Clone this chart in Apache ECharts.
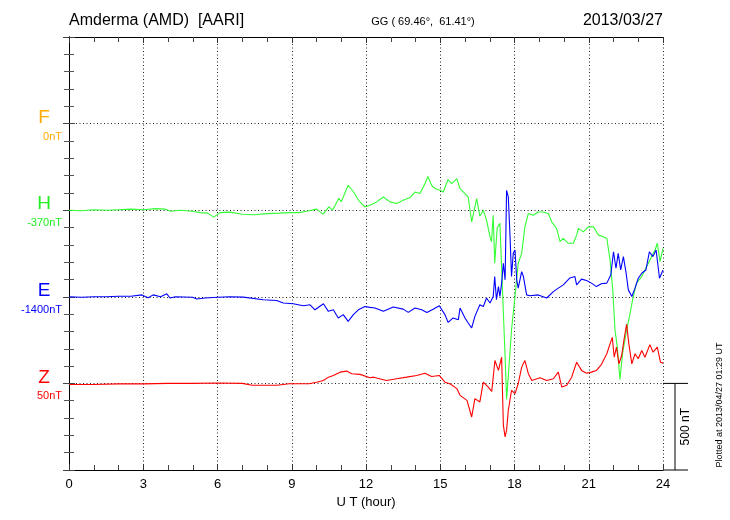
<!DOCTYPE html>
<html><head><meta charset="utf-8">
<script src="https://cdn.jsdelivr.net/npm/echarts@6/dist/echarts.min.js"></script>
<style>html,body{margin:0;padding:0;background:#fff}#c{width:730px;height:520px}</style>
</head><body><div id="c"></div>
<script>
// Data: UT hours and deviation (nT) from each component's baseline
const hT=[0,0.5,1,1.5,2,2.5,3,3.5,3.9,4.1,4.5,5,5.3,5.6,5.85,6.1,6.5,7,7.5,8,8.5,8.9,9.3,9.6,10,10.27,10.5,10.65,10.9,11,11.28,11.5,11.7,11.95,12.16,12.43,12.7,12.97,13.24,13.5,13.78,13.98,14.18,14.38,14.5,14.65,14.79,14.99,15.12,15.31,15.46,15.67,15.8,16,16.13,16.27,16.47,16.6,16.74,16.87,17.01,17.07,17.14,17.2,17.3,17.41,17.48,17.55,17.62,17.68,17.75,17.88,18.02,18.15,18.29,18.42,18.56,18.76,18.96,19.16,19.37,19.5,19.7,19.84,19.97,20.17,20.38,20.51,20.58,20.78,20.98,21.19,21.39,21.59,21.73,21.86,21.97,22.06,22.15,22.26,22.37,22.51,22.67,22.8,22.93,23.14,23.34,23.54,23.68,23.77,23.88,24];
const hV=[0,-3,3,0,3,6,3,9,6,-6,0,-6,-14,-17,-40,-14,-11,-23,-26,-20,-17,-14,-14,-6,6,-23,19,0,69,48,144,105,57,19,29,48,76,48,39,57,73,105,96,153,195,144,125,115,105,176,153,182,125,96,76,-67,67,-34,0,-57,-153,-182,-29,-306,-103,-76,-76,-592,-843,-1092,-958,-690,-498,-306,-249,-96,-19,-29,-10,-10,-19,-67,-105,-182,-163,-191,-191,-144,-105,-125,-96,-96,-144,-153,-163,-287,-460,-690,-786,-977,-824,-709,-594,-498,-421,-383,-326,-268,-230,-191,-297,-220];
const eT=[0,0.5,1,1.5,2,2.5,2.94,3.2,3.4,3.7,3.95,4.08,4.3,5,5.16,5.5,6,6.5,7.04,7.85,8.39,8.66,9.06,9.47,9.74,9.94,10.28,10.48,10.68,10.88,11.08,11.28,11.49,11.69,11.96,12.16,12.36,12.7,13.1,13.5,13.71,13.98,14.25,14.46,14.73,14.96,15.19,15.32,15.52,15.73,15.8,16,16.13,16.27,16.4,16.6,16.74,16.87,17.01,17.14,17.2,17.27,17.35,17.41,17.48,17.55,17.62,17.68,17.75,17.82,17.88,17.95,18.02,18.09,18.15,18.22,18.29,18.36,18.49,18.62,18.96,19.3,19.57,19.77,19.97,20.24,20.44,20.51,20.71,20.91,21.11,21.31,21.51,21.73,21.89,22,22.1,22.19,22.29,22.4,22.51,22.6,22.74,22.87,23,23.14,23.31,23.45,23.59,23.72,23.86,24];
const eV=[0,-3,0,0,3,3,11,-6,11,0,17,-7,0,-3,-13,-7,-3,0,-2,-17,-21,-36,-40,-52,-46,-75,-40,-84,-75,-122,-103,-142,-103,-75,-56,-61,-65,-84,-59,-71,-90,-65,-75,-90,-71,-52,-103,-148,-122,-132,-65,-122,-151,-180,-113,-46,-56,-7,-36,2,117,-17,59,2,79,194,98,615,576,347,117,251,270,98,50,98,145,117,11,6,11,-7,30,50,69,109,117,69,102,94,79,59,75,79,126,260,165,251,155,232,136,40,2,50,107,136,155,260,232,270,107,155];
const zT=[0,1,2,3,4,5,6,7,7.4,8.4,8.9,9.7,10,10.28,10.48,10.68,10.95,11.22,11.42,11.76,12.16,12.3,12.83,13.24,13.64,14.05,14.38,14.65,14.96,15.19,15.39,15.67,15.8,16.08,16.27,16.4,16.6,16.74,16.94,17.08,17.21,17.35,17.48,17.55,17.62,17.68,17.75,17.88,18.02,18.15,18.29,18.42,18.56,18.7,19.03,19.3,19.57,19.77,19.91,20.11,20.31,20.51,20.58,20.71,20.91,21.11,21.31,21.51,21.73,21.86,21.95,22.03,22.12,22.22,22.33,22.44,22.53,22.62,22.74,22.87,23,23.14,23.27,23.47,23.6,23.77,23.9,24];
const zV=[-6,-6,-3,-3,0,0,2,0,-11,-11,-2,-2,7,17,36,46,65,71,56,52,33,36,17,27,36,46,59,40,46,7,-2,-30,-69,-98,-194,-88,-107,7,-21,-46,132,75,151,-241,-309,-270,-155,-40,-59,-2,94,132,56,17,33,17,27,65,-21,-11,36,122,121,75,59,65,75,109,171,228,266,151,209,113,161,266,343,228,113,171,142,190,151,224,180,209,122,117];

const components=['F','H','E','Z'];
const baseOffsets=[1500,1000,500,0];
const baseLabels=['0nT','-370nT','-1400nT','50nT'];
const compColors=['#ffaa00','#22ee22','#0000ff','#ff0000'];
const lineColors={H:'#33ff33',E:'#0000ff',Z:'#ff0000'};
const xTickLabels=[0,3,6,9,12,15,18,21,24];

const build=(t,v,off)=>t.map((x,i)=>[x,v[i]+off]);
const FONT='Liberation Sans, Arial, sans-serif';
const dotted={color:'#222',type:[1,2.5],width:1};

const chart=echarts.init(document.getElementById('c'),null,{renderer:'canvas'});
const axisX=(pos,show)=>({type:'value',position:pos,min:0,max:24,interval:3,
  axisLine:{show:true,onZero:false,lineStyle:{color:'#000',width:1}},
  axisTick:{show:true,inside:true,length:6,lineStyle:{color:'#333'}},
  minorTick:{show:true,splitNumber:3,length:5,lineStyle:{color:'#444'}},
  axisLabel:{show:show,color:'#000',fontSize:13,fontFamily:FONT,margin:8,
    formatter:v=>xTickLabels.includes(v)?String(v):''},
  splitLine:{show:show,lineStyle:dotted},
  name:show?'U T (hour)':'',nameLocation:'middle',nameGap:21,
  nameTextStyle:{color:'#000',fontSize:13,fontFamily:FONT}
});
const axisY=(pos,show)=>({type:'value',position:pos,min:-500,max:2000,interval:500,
  axisLine:{show:true,lineStyle:{color:'#000',width:1}},
  axisTick:{show:true,inside:true,length:6,lineStyle:{color:'#444'}},
  minorTick:{show:true,splitNumber:5,length:5,lineStyle:{color:'#555'}},
  axisLabel:{show:false},
  splitLine:{show:show,lineStyle:dotted}
});
chart.setOption({
  animation:false,
  backgroundColor:'#fff',
  grid:{left:69,right:67,top:37,bottom:50,containLabel:false},
  xAxis:[axisX('bottom',true),axisX('top',false)],
  yAxis:[axisY('left',true),axisY('right',false)],
  series:[
    {type:'line',name:'H',data:build(hT,hV,baseOffsets[1]),showSymbol:false,lineStyle:{color:lineColors.H,width:1.1},itemStyle:{color:lineColors.H}},
    {type:'line',name:'E',data:build(eT,eV,baseOffsets[2]),showSymbol:false,lineStyle:{color:lineColors.E,width:1.1},itemStyle:{color:lineColors.E}},
    {type:'line',name:'Z',data:build(zT,zV,baseOffsets[3]),showSymbol:false,lineStyle:{color:lineColors.Z,width:1.1},itemStyle:{color:lineColors.Z}}
  ]
});

const px=v=>chart.convertToPixel({xAxisIndex:0},v);
const py=v=>chart.convertToPixel({yAxisIndex:0},v);
const g=[];
const x0=px(0), x24=px(24), yTop=py(2000);
// titles
g.push({type:'text',x:x0,y:yTop-16,style:{text:'Amderma (AMD)  [AARI]',font:'16px '+FONT,fill:'#000',align:'left',verticalAlign:'middle'}});
g.push({type:'text',x:(x0+x24)/2+57,y:yTop-15,style:{text:'GG ( 69.46\u00b0,  61.41\u00b0)',font:'11px '+FONT,fill:'#000',align:'center',verticalAlign:'middle'}});
g.push({type:'text',x:x24,y:yTop-16,style:{text:'2013/03/27',font:'16px '+FONT,fill:'#000',align:'right',verticalAlign:'middle'}});
// component labels
components.forEach((c,i)=>{
  const yb=py(baseOffsets[i]);
  g.push({type:'text',x:x0-25,y:yb-6,style:{text:c,font:'19px '+FONT,fill:compColors[i],align:'center',verticalAlign:'middle'}});
  g.push({type:'text',x:x0-7,y:yb+13,style:{text:baseLabels[i],font:'11px '+FONT,fill:compColors[i],align:'right',verticalAlign:'middle'}});
});
// 500 nT scale bar
const yz=py(0), ym=py(-500);
g.push({type:'line',shape:{x1:x24,y1:yz,x2:x24+25,y2:yz},style:{stroke:'#000',lineWidth:1}});
g.push({type:'line',shape:{x1:x24,y1:ym,x2:x24+25,y2:ym},style:{stroke:'#000',lineWidth:1}});
g.push({type:'line',shape:{x1:x24+12,y1:yz,x2:x24+12,y2:ym},style:{stroke:'#000',lineWidth:1}});
g.push({type:'text',x:x24+23,y:(yz+ym)/2,rotation:Math.PI/2,style:{text:'500 nT',font:'12px '+FONT,fill:'#000',align:'center',verticalAlign:'middle'}});
g.push({type:'text',x:720,y:405,rotation:Math.PI/2,style:{text:'Plotted at 2013/04/27 01:29 UT',font:'9px '+FONT,fill:'#000',align:'center',verticalAlign:'middle'}});
chart.setOption({graphic:g});
</script></body></html>
